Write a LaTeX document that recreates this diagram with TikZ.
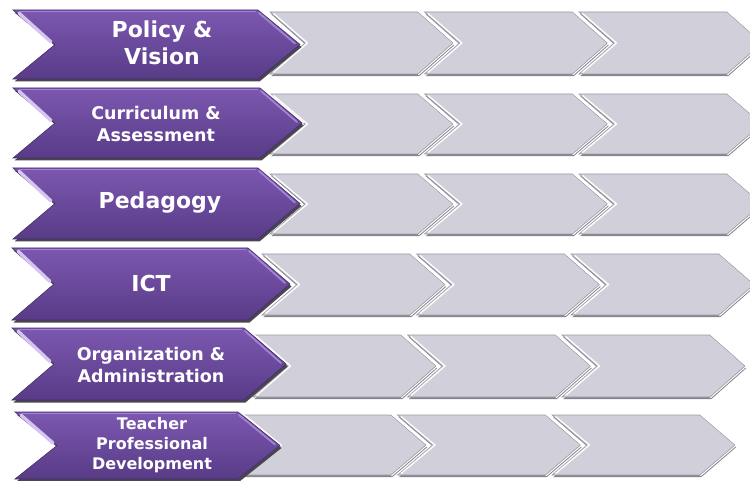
\documentclass[tikz,border=0pt]{standalone}
\usepackage{fontspec}
\newfontfamily\lblfont{DejaVu Sans}
\definecolor{pTop}{HTML}{7C58B0}
\definecolor{pBot}{HTML}{583B87}
\definecolor{pEdge}{HTML}{45306A}
\definecolor{pShadow}{HTML}{4A4650}
\definecolor{pHi}{HTML}{D6C4F2}
\definecolor{pHiB}{HTML}{A384D2}
\definecolor{gFill}{HTML}{D1CFDA}
\definecolor{gEdge}{HTML}{9A98A2}
\definecolor{gShadow}{HTML}{86848C}
\newcommand\greychev[3]{% left, top, bottom
  \pgfmathsetmacro\gmid{(#2+#3)/2}
  \begin{scope}[shift={(1.2,2.2)}]
    \fill[gShadow] (#1,#2) -- ({#1+148},#2) -- ({#1+183},\gmid) -- ({#1+148},#3) -- (#1,#3) -- ({#1+35},\gmid) -- cycle;
  \end{scope}
  \path[gbody] (#1,#2) -- ({#1+148},#2) -- ({#1+183},\gmid) -- ({#1+148},#3) -- (#1,#3) -- ({#1+35},\gmid) -- cycle;
  \draw[white, line width=1.3pt, line join=round] ({#1+3.5},{#2+1.5}) -- ({#1+37.5},\gmid) -- ({#1+3.5},{#3-1.5});
  \draw[white, line width=1pt, line join=round] ({#1+148.5},{#2-0.8}) -- ({#1+184.5},\gmid) -- ({#1+148.5},{#3+0.8});
}
\newcommand\purplechev[4]{% left, top, bottom, tip
  \pgfmathsetmacro\pmid{(#2+#3)/2}
  \begin{scope}[shift={(1.5,2.5)}]
    \fill[pShadow] (#1,#2) -- ({#4-42},#2) -- (#4,\pmid) -- ({#4-42},#3) -- (#1,#3) -- ({#1+42},\pmid) -- cycle;
  \end{scope}
  \draw[white, line width=1.4pt] ({#4-41},{#2-1}) -- ({#4+1.8},\pmid);
  \path[pbody] (#1,#2) -- ({#4-42},#2) -- (#4,\pmid) -- ({#4-42},#3) -- (#1,#3) -- ({#1+42},\pmid) -- cycle;
  \draw[pHi, line width=3.4pt, line cap=round] ({#1+6},{#2+3.2}) -- ({#1+38},{\pmid-2.5});
  \draw[pHiB, line width=1.2pt] ({#1+6},{#2+1.6}) -- ({#4-44},{#2+1.6});
  \draw[pHiB, line width=1.8pt, line cap=round] ({#4-41},{#2+3}) -- ({#4-5},{\pmid-1});
}
\begin{document}
\begin{tikzpicture}[x=1pt,y=-1pt,
  gbody/.style={fill=gFill, draw=gEdge, line width=0.6pt},
  pbody/.style={top color=pTop, bottom color=pBot, draw=pEdge, line width=0.6pt},
  lblbig/.style={text=white, align=center, inner sep=0pt, font=\lblfont\bfseries\fontsize{22}{27}\selectfont},
  lblmed/.style={text=white, align=center, inner sep=0pt, font=\lblfont\bfseries\fontsize{17.5}{22}\selectfont},
  lblsmall/.style={text=white, align=center, inner sep=0pt, font=\lblfont\bfseries\fontsize{16}{20}\selectfont}]
\useasboundingbox (0,0) rectangle (750,481);
\clip (0,0) rectangle (750,481);
\fill[white] (0,0) rectangle (750,481);
% grey chevrons, right to left
\foreach \gx/\gt/\gb in {270/12/74, 270/94/154, 270/174/234, 262/254/315, 253/335/397, 243/415/475}{
  \greychev{\gx+309}{\gt}{\gb}
  \greychev{\gx+154.5}{\gt}{\gb}
  \greychev{\gx}{\gt}{\gb}
}
% purple chevrons
\purplechev{13}{10}{79}{300}
\purplechev{13}{88}{158}{302}
\purplechev{13}{168}{239}{300}
\purplechev{12}{248}{320}{290}
\purplechev{12}{328}{400}{286}
\purplechev{15}{412}{479}{280}
% labels
\node[lblbig] (policy) at (162,43) {Policy \&\\Vision};
\node[lblmed] (curric) at (156,124) {Curriculum \&\\Assessment};
\node[lblbig] (pedag) at (160,203) {Pedagogy};
\node[lblbig] (ict) at (151,283) {ICT};
\node[lblmed] (org) at (151,365) {Organization \&\\Administration};
\node[lblsmall] (teacher) at (152,445) {Teacher\\Professional\\Development};
\end{tikzpicture}
\end{document}
